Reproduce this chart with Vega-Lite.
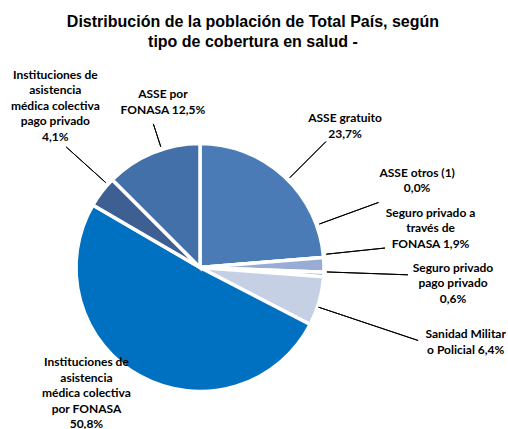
{
  "$schema": "https://vega.github.io/schema/vega-lite/v6.json",
  "width": 400,
  "height": 419,
  "padding": {"left": 0, "right": 0, "top": 14, "bottom": 0},
  "background": "white",
  "title": {
    "text": ["Distribución de la población de Total País, según", "tipo de cobertura en salud -"],
    "font": "Liberation Sans",
    "fontSize": 16,
    "fontWeight": "bold",
    "color": "#000000",
    "anchor": "middle",
    "frame": "bounds",
    "lineHeight": 20,
    "offset": 8
  },
  "config": {"view": {"stroke": null}},
  "data": {
    "values": [
      {"ord": 1, "cat": "ASSE gratuito", "value": 23.7, "label": ["ASSE gratuito", "23,7%"]},
      {"ord": 2, "cat": "ASSE otros (1)", "value": 0.0, "label": ["ASSE otros (1)", "0,0%"]},
      {"ord": 3, "cat": "Seguro privado a través de FONASA", "value": 1.9, "label": ["Seguro privado a", "través de", "FONASA 1,9%"]},
      {"ord": 4, "cat": "Seguro privado pago privado", "value": 0.6, "label": ["Seguro privado", "pago privado", "0,6%"]},
      {"ord": 5, "cat": "Sanidad Militar o Policial", "value": 6.4, "label": ["Sanidad Militar", "o Policial 6,4%"]},
      {"ord": 6, "cat": "Instituciones de asistencia médica colectiva por FONASA", "value": 50.8, "label": ["Instituciones de", "asistencia", "médica colectiva", "por FONASA", "50,8%"]},
      {"ord": 7, "cat": "Instituciones de asistencia médica colectiva pago privado", "value": 4.1, "label": ["Instituciones de", "asistencia", "médica colectiva", "pago privado", "4,1%"]},
      {"ord": 8, "cat": "ASSE por FONASA", "value": 12.5, "label": ["ASSE por", "FONASA 12,5%"]}
    ]
  },
  "transform": [
    {"window": [{"op": "sum", "field": "value", "as": "cum"}], "sort": [{"field": "ord"}]},
    {"calculate": "datum.cum - datum.value / 2", "as": "mid"}
  ],
  "layer": [
    {
      "mark": {"type": "arc", "radius": 124, "stroke": "white", "strokeWidth": 3.5},
      "encoding": {
        "theta": {"field": "value", "type": "quantitative", "stack": true, "scale": {"domain": [0, 100]}},
        "order": {"field": "ord", "type": "quantitative"},
        "color": {
          "field": "cat",
          "type": "nominal",
          "legend": null,
          "scale": {
            "domain": ["ASSE gratuito", "ASSE otros (1)", "Seguro privado a través de FONASA", "Seguro privado pago privado", "Sanidad Militar o Policial", "Instituciones de asistencia médica colectiva por FONASA", "Instituciones de asistencia médica colectiva pago privado", "ASSE por FONASA"],
            "range": ["#4a7bb7", "#8faadc", "#98acd5", "#87a3d6", "#c6d0e5", "#0070c0", "#3d5f92", "#4470a9"]
          }
        }
      }
    },
    {
      "transform": [
        {"filter": "datum.ord != 6"},
        {"calculate": "datum.mid + [0.65, -4.26, -1.32, -0.34, 0.74, 0, 1.22, 1.25][datum.ord - 1]", "as": "lang"},
        {"calculate": "[127, 127, 127, 127, 125, 0, 127, 127][datum.ord - 1]", "as": "r0"},
        {"calculate": "[178, 190, 186, 208, 230, 0, 180, 151][datum.ord - 1]", "as": "r1"}
      ],
      "mark": {"type": "arc", "fill": null, "stroke": "#000000", "strokeWidth": 1},
      "encoding": {
        "theta": {"field": "lang", "type": "quantitative", "stack": null},
        "theta2": {"field": "lang"},
        "radius": {"field": "r0", "type": "quantitative", "scale": null},
        "radius2": {"field": "r1"}
      }
    },
    {
      "transform": [
        {"calculate": "datum.mid + [0.43, -5.26, -3.37, -0.9, -0.48, 5.92, 4.30, 2.89][datum.ord - 1]", "as": "tang"},
        {"calculate": "[208, 237, 237, 253, 274, 148, 241, 177][datum.ord - 1]", "as": "tr"}
      ],
      "mark": {"type": "text", "font": "Lato", "fontSize": 12, "fontWeight": "bold", "color": "#000000", "align": "center", "baseline": "middle", "lineHeight": 15.5},
      "encoding": {
        "theta": {"field": "tang", "type": "quantitative", "stack": null},
        "radius": {"field": "tr", "type": "quantitative", "scale": null},
        "text": {"field": "label"}
      }
    }
  ]
}
